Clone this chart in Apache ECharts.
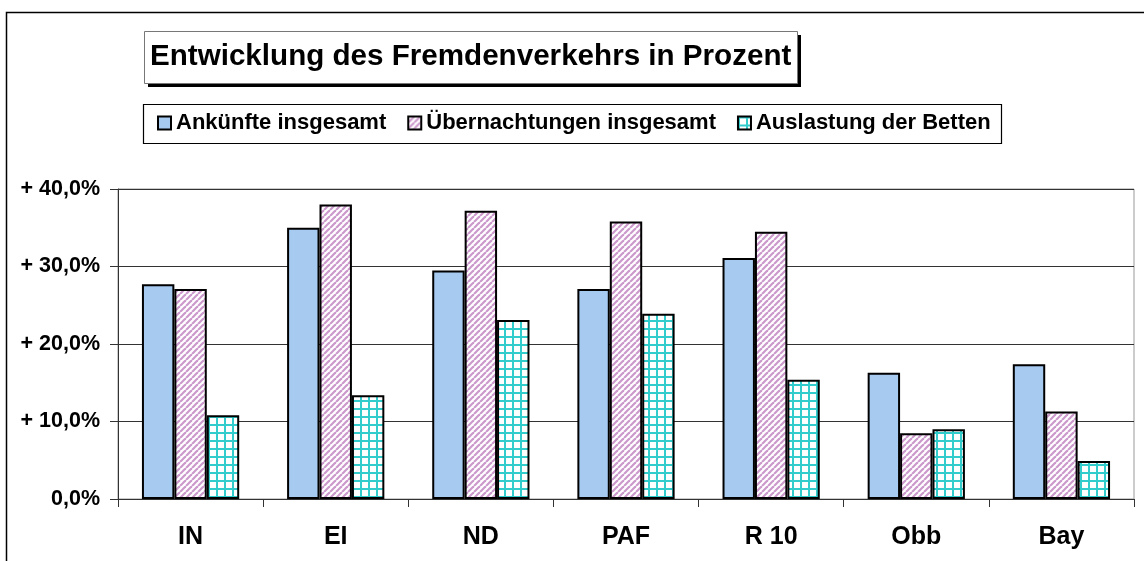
<!DOCTYPE html>
<html>
<head>
<meta charset="utf-8">
<script src="https://cdn.jsdelivr.net/npm/echarts@6/dist/echarts.min.js"></script>
<style>
html, body { margin: 0; padding: 0; background: #fff; }
#chart { width: 1144px; height: 561px; }
</style>
</head>
<body>
<div id="chart"></div>
<script>
// Daten
var categories = ['IN', 'EI', 'ND', 'PAF', 'R 10', 'Obb', 'Bay'];
var seriesNames = ['Ankünfte insgesamt', 'Übernachtungen insgesamt', 'Auslastung der Betten'];
var ankuenfte = [27.7, 35.0, 29.5, 27.1, 31.1, 16.3, 17.4];
var uebernachtungen = [27.1, 38.0, 37.2, 35.8, 34.5, 8.5, 11.3];
var auslastung = [10.8, 13.4, 23.1, 23.9, 15.4, 9.0, 4.9];
var yTicks = [0, 10, 20, 30, 40];

var FONT = '"Liberation Sans", Arial, sans-serif';

// Muster fuer die Balken
function stripePattern() {
	var c = document.createElement('canvas');
	c.width = 6; c.height = 6;
	var ctx = c.getContext('2d');
	ctx.fillStyle = '#ffffff';
	ctx.fillRect(0, 0, 6, 6);
	ctx.strokeStyle = '#cc99cc';
	ctx.lineWidth = 2.2;
	for (var k = -6; k <= 12; k += 6) {
		ctx.beginPath();
		ctx.moveTo(k, 6);
		ctx.lineTo(k + 6, 0);
		ctx.stroke();
	}
	return c;
}

function gridPattern() {
	var c = document.createElement('canvas');
	c.width = 8; c.height = 8;
	var ctx = c.getContext('2d');
	ctx.fillStyle = '#ffffff';
	ctx.fillRect(0, 0, 8, 8);
	ctx.fillStyle = '#33cccc';
	ctx.fillRect(0, 0, 8, 2);
	ctx.fillRect(0, 0, 2, 8);
	return c;
}

var colors = [
	'#a6caf0',
	{ image: stripePattern(), repeat: 'repeat' },
	{ image: gridPattern(), repeat: 'repeat' }
];
var datas = [ankuenfte, uebernachtungen, auslastung];

var series = [];
for (var i = 0; i < seriesNames.length; i++) {
	series.push({
		name: seriesNames[i],
		type: 'bar',
		barGap: '0%',
		barCategoryGap: '33%',
		itemStyle: {
			color: colors[i],
			borderColor: '#000',
			borderWidth: 2
		},
		emphasis: { disabled: true },
		data: datas[i]
	});
}

var myChart = echarts.init(document.getElementById('chart'));

myChart.setOption({
	animation: false,
	textStyle: { fontFamily: FONT },
	grid: {
		left: 118,
		right: 10,
		top: 189,
		bottom: 62,
		show: true,
		borderColor: '#999',
		borderWidth: 1,
		containLabel: false
	},
	graphic: [
		// Rahmen
		{ type: 'polyline', shape: { points: [[6.5, 561], [6.5, 12.5], [1144, 12.5]] },
			style: { stroke: '#000', lineWidth: 1.5, fill: null } },
		// Titel
		{ type: 'rect', shape: { x: 148, y: 35, width: 653, height: 52 }, style: { fill: '#000' } },
		{ type: 'rect', shape: { x: 144.5, y: 31.5, width: 653, height: 52 },
			style: { fill: '#fff', stroke: '#777', lineWidth: 1 } },
		{ type: 'text', left: 150, top: 42,
			style: { text: 'Entwicklung des Fremdenverkehrs in Prozent', font: 'bold 29.6px ' + FONT, fill: '#000' } },
		// Legendenrahmen
		{ type: 'rect', shape: { x: 143.5, y: 104.5, width: 858, height: 39 },
			style: { fill: '#fff', stroke: '#000', lineWidth: 1.2 } }
	],
	legend: {
		left: 157,
		top: 112,
		padding: 0,
		itemWidth: 13,
		itemHeight: 13,
		itemGap: 21,
		icon: 'rect',
		textStyle: { fontFamily: FONT, fontWeight: 'bold', fontSize: 22, color: '#000' },
		data: seriesNames
	},
	xAxis: {
		type: 'category',
		data: categories,
		axisLine: { lineStyle: { color: '#333', width: 1 } },
		axisTick: { show: true, length: 8, lineStyle: { color: '#333' } },
		axisLabel: { margin: 26, fontFamily: FONT, fontWeight: 'bold', fontSize: 25, color: '#000' }
	},
	yAxis: {
		type: 'value',
		min: yTicks[0],
		max: yTicks[yTicks.length - 1],
		interval: 10,
		axisLine: { show: true, lineStyle: { color: '#333' } },
		axisTick: { show: true, length: 8, lineStyle: { color: '#333' } },
		splitLine: { lineStyle: { color: '#333', width: 1 } },
		axisLabel: {
			margin: 18,
			fontFamily: FONT,
			fontWeight: 'bold',
			fontSize: 21.5,
			color: '#000',
			formatter: function (v) {
				return v === 0 ? '0,0%' : '+ ' + v + ',0%';
			}
		}
	},
	series: series
});
</script>
</body>
</html>
